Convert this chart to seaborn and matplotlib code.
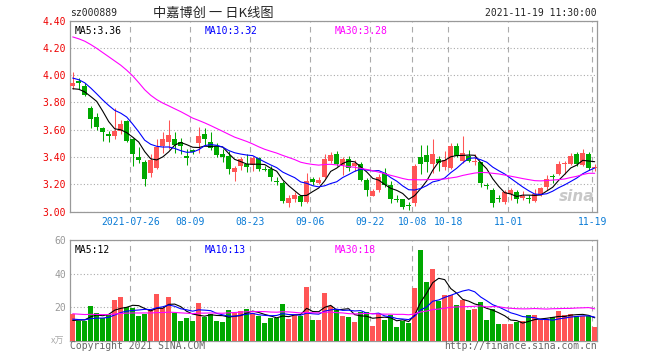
import numpy as np
import pandas as pd
import matplotlib
matplotlib.use("Agg")
import matplotlib.pyplot as plt
import seaborn as sns

sns.set_style("white")
plt.rcParams['font.family'] = ['DejaVu Sans Mono', 'Noto Sans CJK SC']
plt.rcParams['axes.unicode_minus'] = False

RED = '#ff5555'
GREEN = '#00a800'
GRID = '#aaaaaa'
FRAME = '#999999'

# 交易日 2021-07-12 .. 2021-11-19 (中秋、国庆休市)
holidays = pd.to_datetime(['2021-09-20', '2021-09-21', '2021-10-01', '2021-10-04',
                           '2021-10-05', '2021-10-06', '2021-10-07'])
dates = pd.bdate_range('2021-07-12', '2021-11-19').difference(holidays)

tick_dates = ['2021-07-26', '2021-08-09', '2021-08-23', '2021-09-06', '2021-09-22',
              '2021-10-08', '2021-10-18', '2021-11-01', '2021-11-19']
tick_labels = ['2021-07-26', '08-09', '08-23', '09-06', '09-22',
               '10-08', '10-18', '11-01', '11-19']

open_ = [3.92, 3.96, 3.92, 3.76, 3.69, 3.615, 3.57, 3.555, 3.59, 3.66,
         3.535, 3.40, 3.365, 3.28, 3.32, 3.48, 3.51, 3.53, 3.51, 3.405,
         3.45, 3.50, 3.565, 3.51, 3.48, 3.425, 3.405, 3.29, 3.33, 3.35,
         3.34, 3.39, 3.315, 3.315, 3.225, 3.21, 3.065, 3.095, 3.115, 3.07,
         3.235, 3.21, 3.255, 3.37, 3.42, 3.34, 3.385, 3.335, 3.35, 3.23,
         3.115, 3.16, 3.285, 3.195, 3.095, 3.09, 3.045, 3.06, 3.40, 3.415,
         3.345, 3.385, 3.325, 3.32, 3.48, 3.37, 3.41, 3.36, 3.36, 3.19,
         3.16, 3.095, 3.07, 3.125, 3.145, 3.10, 3.095, 3.08, 3.12, 3.18,
         3.26, 3.275, 3.345, 3.35, 3.42, 3.34, 3.42, 3.32]
high = [4.02, 3.98, 3.94, 3.77, 3.72, 3.62, 3.59, 3.76, 3.67, 3.67,
        3.54, 3.47, 3.38, 3.42, 3.535, 3.58, 3.67, 3.58, 3.54, 3.46,
        3.46, 3.62, 3.61, 3.58, 3.50, 3.455, 3.44, 3.33, 3.40, 3.42,
        3.405, 3.40, 3.33, 3.33, 3.25, 3.22, 3.12, 3.145, 3.12, 3.285,
        3.255, 3.25, 3.42, 3.435, 3.44, 3.40, 3.405, 3.38, 3.365, 3.245,
        3.165, 3.275, 3.32, 3.225, 3.12, 3.095, 3.07, 3.345, 3.485, 3.485,
        3.53, 3.41, 3.44, 3.50, 3.50, 3.555, 3.45, 3.42, 3.365, 3.21,
        3.17, 3.12, 3.16, 3.175, 3.16, 3.15, 3.12, 3.165, 3.18, 3.27,
        3.275, 3.37, 3.37, 3.43, 3.435, 3.455, 3.435, 3.345]
low = [3.90, 3.90, 3.85, 3.61, 3.60, 3.52, 3.51, 3.535, 3.565, 3.51,
       3.335, 3.355, 3.19, 3.255, 3.315, 3.43, 3.46, 3.43, 3.42, 3.34,
       3.42, 3.43, 3.49, 3.45, 3.40, 3.365, 3.275, 3.22, 3.305, 3.29,
       3.30, 3.295, 3.30, 3.225, 3.195, 3.065, 3.035, 3.07, 3.04, 3.06,
       3.195, 3.205, 3.245, 3.355, 3.33, 3.27, 3.295, 3.30, 3.22, 3.11,
       3.11, 3.145, 3.18, 3.06, 3.07, 3.015, 3.01, 3.04, 3.275, 3.29,
       3.28, 3.30, 3.305, 3.315, 3.40, 3.355, 3.36, 3.34, 3.18, 3.165,
       3.035, 3.07, 3.055, 3.085, 3.065, 3.085, 3.06, 3.07, 3.11, 3.16,
       3.21, 3.27, 3.275, 3.34, 3.33, 3.33, 3.305, 3.295]
close = [3.94, 3.94, 3.855, 3.68, 3.62, 3.585, 3.555, 3.59, 3.645, 3.515,
         3.42, 3.375, 3.24, 3.38, 3.475, 3.53, 3.56, 3.485, 3.48, 3.395,
         3.435, 3.55, 3.535, 3.465, 3.415, 3.40, 3.31, 3.32, 3.385, 3.325,
         3.39, 3.315, 3.305, 3.25, 3.215, 3.075, 3.10, 3.12, 3.07, 3.225,
         3.215, 3.23, 3.385, 3.415, 3.345, 3.385, 3.32, 3.355, 3.23, 3.16,
         3.15, 3.255, 3.195, 3.09, 3.085, 3.035, 3.04, 3.335, 3.345, 3.365,
         3.425, 3.355, 3.38, 3.48, 3.41, 3.43, 3.37, 3.37, 3.21, 3.185,
         3.065, 3.09, 3.14, 3.16, 3.095, 3.115, 3.09, 3.13, 3.175, 3.24,
         3.255, 3.345, 3.35, 3.405, 3.345, 3.43, 3.32, 3.325]
# 成交量 (万手)
volume = [15.8, 11.4, 11.8, 20.8, 16.6, 13.6, 15.4, 24.4, 26.2, 19.8,
          19.6, 14.4, 15.8, 19.0, 27.6, 19.6, 26.2, 16.6, 11.4, 13.6,
          11.4, 22.6, 13.8, 15.8, 11.4, 10.8, 18.4, 16.2, 17.8, 19.0,
          16.6, 14.4, 10.2, 13.2, 13.4, 22.0, 12.6, 15.4, 14.6, 31.8,
          12.4, 12.0, 28.6, 20.4, 18.0, 14.4, 13.8, 10.8, 16.8, 16.8,
          8.4, 15.8, 12.0, 15.0, 7.8, 11.4, 10.4, 31.4, 54.0, 34.8,
          42.6, 23.4, 27.4, 27.4, 21.0, 24.0, 18.0, 19.0, 22.8, 12.4,
          18.8, 10.0, 10.0, 10.0, 10.8, 11.4, 15.0, 15.4, 12.0, 12.8,
          14.0, 17.8, 15.4, 15.8, 14.4, 14.8, 14.8, 8.2]

# 图左侧之前29个交易日 (估计, 用于均线起点)
prev_close = [4.35, 4.38, 4.42, 4.46, 4.51, 4.47, 4.52, 4.57, 4.62, 4.67,
              4.86, 4.80, 4.60, 4.43, 4.28, 4.18, 4.13, 4.11, 4.10, 4.15,
              4.06, 4.08, 4.06, 4.05, 4.03, 3.96, 3.95, 3.85, 3.80]
prev_volume = [18, 19, 17, 18, 17, 15, 14, 16, 15, 15.6,
               15, 15, 20, 21, 18, 19, 22, 19, 20, 18.4,
               14, 13.5, 13.8, 13.2, 13.5, 10.5, 11.0, 11.5, 11.2]

n = len(close)
idx = np.arange(n)
df = pd.DataFrame({'x': idx, 'open': open_, 'high': high, 'low': low,
                   'close': close, 'volume': volume})
df['dir'] = np.where(df['close'] >= df['open'], 'up', 'down')

full_c = pd.Series(prev_close + close)
full_v = pd.Series(prev_volume + volume)
for w in (5, 10, 30):
    df[f'ma{w}'] = full_c.rolling(w).mean().iloc[-n:].values
    df[f'vma{w}'] = full_v.rolling(w).mean().iloc[-n:].values

tick_pos = dates.get_indexer(pd.to_datetime(tick_dates)) - 0.4
colors = {'up': RED, 'down': GREEN}
ma_colors = {5: 'black', 10: '#0000ff', 30: '#ff00ff'}

fig = plt.figure(figsize=(6.6, 3.6), dpi=100)
axp = fig.add_axes([70 / 660, 1 - 211.5 / 360, 527 / 660, 191 / 360])
axv = fig.add_axes([70 / 660, 1 - 340.5 / 360, 527 / 660, 100.2 / 360])

# K线
body_bottom = df[['open', 'close']].min(axis=1)
body_h = (df['close'] - df['open']).abs().clip(lower=0.008)
bar_colors = df['dir'].map(colors)
axp.vlines(df['x'], df['low'], df['high'], colors=bar_colors, lw=0.75, zorder=3)
axp.bar(df['x'], body_h, bottom=body_bottom, width=0.83, color=bar_colors,
        linewidth=0, zorder=4)
for w in (5, 10, 30):
    sns.lineplot(data=df, x='x', y=f'ma{w}', color=ma_colors[w], lw=0.8,
                 ax=axp, zorder=5)

# 成交量
sns.barplot(data=df, x='x', y='volume', hue='dir', palette=colors,
            native_scale=True, width=0.83, dodge=False, legend=False,
            errorbar=None, saturation=1, linewidth=0, ax=axv, zorder=3)
for w in (5, 10, 30):
    sns.lineplot(data=df, x='x', y=f'vma{w}', color=ma_colors[w], lw=0.8,
                 ax=axv, zorder=5)

for ax in (axp, axv):
    ax.set_xlim(-0.45, n - 0.62)
    ax.set_xticks(tick_pos)
    ax.set_xlabel('')
    ax.set_ylabel('')
    ax.grid(axis='x', color=GRID, lw=0.8, ls=(0, (5, 4)))
    ax.grid(axis='y', color=GRID, lw=0.8, ls=(0, (1, 2)))
    ax.set_axisbelow(True)
    for s in ax.spines.values():
        s.set_color(FRAME)
        s.set_linewidth(0.9)
        s.set_visible(True)

axp.set_ylim(3.0, 4.4)
axp.set_yticks(np.arange(3.0, 4.41, 0.2))
axp.set_yticklabels([f'{v:.2f}' for v in np.arange(3.0, 4.41, 0.2)])
axp.tick_params(axis='y', colors='#ee0000', length=0, pad=3, labelsize=7)
axp.set_xticklabels(tick_labels)
axp.tick_params(axis='x', colors='#0a7bd6', length=0, pad=4, labelsize=7)

axv.set_ylim(0, 60)
axv.set_yticks([20, 40, 60])
axv.set_yticklabels(['20', '40', '60'])
axv.tick_params(axis='y', colors='#999999', length=0, pad=3, labelsize=7)
axv.set_xticklabels([])
axv.tick_params(axis='x', length=0)

# 文字
fig.text(70 / 660, 1 - 13 / 360, 'sz000889', fontsize=7, va='center', ha='left')
fig.text(213 / 660, 1 - 13 / 360, '中嘉博创 一 日K线图', fontsize=9.5, va='center',
         ha='center', family=['Noto Sans CJK SC', 'DejaVu Sans'])
fig.text(597 / 660, 1 - 13 / 360, '2021-11-19 11:30:00', fontsize=7, va='center', ha='right')

axp.text(0.008, 0.97, 'MA5:3.36', transform=axp.transAxes, fontsize=7, va='top', color='black')
axp.text(0.255, 0.97, 'MA10:3.32', transform=axp.transAxes, fontsize=7, va='top', color='#0000ff')
axp.text(0.502, 0.97, 'MA30:3.28', transform=axp.transAxes, fontsize=7, va='top', color='#ff00ff')
axv.text(0.008, 0.95, 'MA5:12', transform=axv.transAxes, fontsize=7, va='top', color='black')
axv.text(0.255, 0.95, 'MA10:13', transform=axv.transAxes, fontsize=7, va='top', color='#0000ff')
axv.text(0.502, 0.95, 'MA30:18', transform=axv.transAxes, fontsize=7, va='top', color='#ff00ff')

axp.text(0.995, 0.08, 'sina', transform=axp.transAxes, fontsize=11, ha='right',
         va='center', color='#c8c8c8', fontweight='bold', style='italic',
         family='DejaVu Sans', zorder=2)

fig.text(64 / 660, 1 - 341 / 360, 'x万', fontsize=6.5, ha='right', va='center',
         color='#aaaaaa', family=['Noto Sans CJK SC', 'DejaVu Sans'])
fig.text(70 / 660, 1 - 346 / 360, 'Copyright 2021 SINA.COM', fontsize=7,
         ha='left', va='center', color='#666666')
fig.text(597 / 660, 1 - 346 / 360, 'http://finance.sina.com.cn', fontsize=7,
         ha='right', va='center', color='#666666')

fig.savefig('out.png', dpi=100)
